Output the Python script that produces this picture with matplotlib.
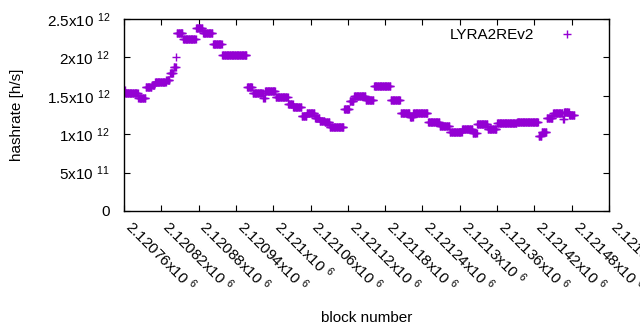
import numpy as np
import matplotlib.pyplot as plt

plt.rcParams['font.family'] = ['Liberation Sans', 'DejaVu Sans']
plt.rcParams['mathtext.fontset'] = 'custom'
plt.rcParams['mathtext.rm'] = 'Liberation Sans'
plt.rcParams['mathtext.it'] = 'Liberation Sans'

# Hashrate is constant over runs of blocks: start offset of each run and its value
first_block = 2120760
run_start = [0, 2, 23, 35, 45, 50, 68, 74, 80, 84, 85, 95, 116, 127, 143, 158,
             198, 207, 224, 227, 244, 264, 272, 286, 294, 307, 315, 323, 331,
             354, 363, 370, 389, 402, 429, 445, 460, 465, 489, 508, 524, 544,
             561, 568, 585, 600, 632, 667, 672, 680, 690, 706, 708, 716]
run_end = 725
run_hashrate = [1.575, 1.537, 1.471, 1.615, 1.641, 1.680, 1.706, 1.797, 1.875,
                2.005, 2.318, 2.240, 2.383, 2.318, 2.175, 2.031, 1.615, 1.537,
                1.471, 1.563, 1.484, 1.393, 1.354, 1.237, 1.276, 1.211, 1.172,
                1.159, 1.094, 1.328, 1.432, 1.497, 1.445, 1.628, 1.445, 1.276,
                1.230, 1.276, 1.159, 1.107, 1.029, 1.068, 1.016, 1.133, 1.068,
                1.146, 1.159, 0.977, 1.029, 1.211, 1.276, 1.198, 1.289, 1.250]

lengths = np.diff(run_start + [run_end])
blocks = first_block + np.arange(run_end)
hashrate = np.repeat(np.array(run_hashrate) * 1e12, lengths)

x_ticks = np.arange(2120760, 2121541, 60)
y_ticks = [0, 5e11, 1e12, 1.5e12, 2e12, 2.5e12]
y_labels = ['0', '5x10 $^{11}$', '1x10 $^{12}$', '1.5x10 $^{12}$',
            '2x10 $^{12}$', '2.5x10 $^{12}$']

fs = 11

fig = plt.figure(figsize=(6.4, 3.3), dpi=100)
ax = fig.add_axes([124 / 640, 1 - 211 / 330, 485 / 640, 192 / 330])
ax.plot(blocks, hashrate, '+', color='#9400D3', markersize=6,
        markeredgewidth=1, label='LYRA2REv2')

ax.set_xlim(2120760, 2121540)
ax.set_ylim(0, 2.5e12)
ax.set_xticks(x_ticks)
ax.set_xticklabels(['%gx10 $^{6}$' % (v / 1e6) for v in x_ticks],
                   rotation=-45, ha='left', va='baseline', rotation_mode='anchor')
ax.set_yticks(y_ticks)
ax.set_yticklabels(y_labels)
ax.tick_params(direction='in', top=True, right=True, length=4, labelsize=fs,
               colors='black')
ax.tick_params(axis='x', pad=12)
ax.tick_params(axis='y', pad=10)
for s in ax.spines.values():
    s.set_linewidth(1)

ax.set_xlabel('block number', fontsize=fs, labelpad=12)
ax.set_ylabel('hashrate [h/s]', fontsize=fs, labelpad=16)
ax.legend(loc='upper right', bbox_to_anchor=(0.963, 1.0), frameon=False,
          markerfirst=False, fontsize=fs, handlelength=2.0, handletextpad=1.1,
          borderaxespad=0.2)

fig.savefig('out.png', dpi=100)
